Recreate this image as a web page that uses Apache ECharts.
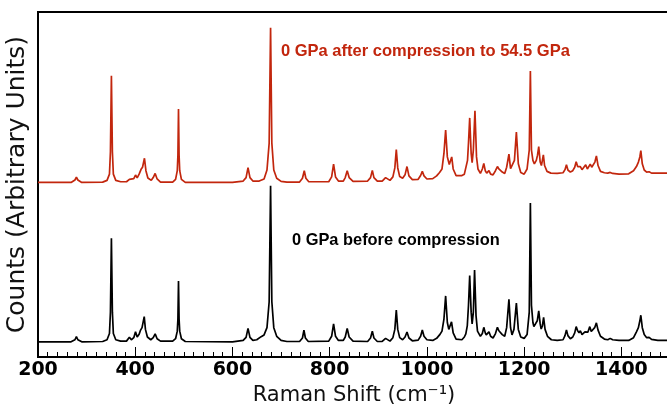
<!DOCTYPE html>
<html>
<head>
<meta charset="utf-8">
<title>Raman spectra</title>
<script src="https://cdn.jsdelivr.net/npm/echarts@6/dist/echarts.min.js"></script>
<style>
  html, body { margin: 0; padding: 0; background: #fff; }
  #chart { width: 667px; height: 404px; }
</style>
</head>
<body>
<div id="chart"></div>
<script>
// Raman spectrum at 0 GPa before compression: [shift (cm^-1), counts]
const spectrumBefore = [
  [200, 4.4], [268, 4.4], [276, 5.0], [279, 5.9], [282, 5.0], [290, 4.4],
  [333, 4.5], [342, 5.0], [347, 6.8], [349, 13], [351, 34.4], [353, 13], [355, 6.8], [360, 5.0], [370, 4.6],
  [382, 4.6], [388, 5.7], [392, 5.0], [397, 5.6], [400.6, 7.3], [404, 5.8], [408, 6.6], [411, 7.8], [414, 8.5],
  [418.5, 11.7], [421, 8.0], [425, 5.8], [432, 5.0], [437, 5.6], [441, 6.7], [445, 5.3], [452, 4.6],
  [477, 4.6], [483, 5.3], [486.5, 7.5], [487.8, 11], [489, 22.0], [490.2, 11], [491.5, 7.5], [495, 5.3], [503, 4.5],
  [600, 4.4], [622, 4.8], [628, 5.7], [632, 8.3], [636, 5.7], [642, 4.8], [650, 5.0], [659, 5.9], [665, 6.4],
  [671, 8.5], [675.5, 16], [678.4, 49.6], [681, 16], [685, 8.5], [691, 6.0], [700, 4.8], [712, 4.5],
  [738, 4.5], [744, 5.5], [747, 7.8], [750, 5.5], [756, 4.5],
  [798, 4.6], [804, 6.0], [808, 9.6], [812, 6.0], [818, 4.8], [828, 4.8], [832, 5.8], [836, 8.3], [840, 5.8], [848, 4.6],
  [878, 4.5], [884, 5.5], [887.7, 7.5], [891, 5.5], [898, 4.5], [908, 4.5], [912, 4.9], [915, 5.4], [918, 4.9],
  [924, 4.6], [930, 5.6], [934, 8], [937, 13.6], [940, 8], [944, 5.6], [950, 5.0], [955, 5.8], [959, 7.25], [963, 5.5],
  [970, 4.7], [982, 4.9], [987, 6], [990.5, 7.8], [994, 6.0], [1000, 5.0], [1012, 4.8], [1020, 5.4], [1026, 6.4],
  [1031, 7.5], [1035, 11], [1038.5, 17.7], [1042, 10.0], [1045, 8.0], [1050.6, 10.2], [1054, 7.0], [1060, 5.2],
  [1072, 5.0], [1077, 5.8], [1080, 6.7], [1083, 9], [1085.5, 15], [1088, 23.6], [1091, 13], [1093, 9.6],
  [1095.5, 13], [1098, 25.2], [1101, 12], [1104, 7.5], [1110, 6.0], [1114, 6.8], [1117, 8.6], [1120, 7.0],
  [1122, 6.4], [1124.5, 6.8], [1127.6, 7.3], [1131, 6.0], [1136, 5.5], [1141, 6.8], [1145, 8.6], [1148, 7.6],
  [1151, 7.8], [1155, 6.5], [1160, 6.0], [1164, 8.5], [1168.7, 16.7], [1172, 8.5], [1175, 6.4], [1179, 8.0],
  [1184, 15.6], [1188, 8.0], [1193, 5.8], [1200, 5.4], [1206, 6.5], [1210.5, 13], [1212.8, 44.6], [1215, 15],
  [1218, 10], [1220, 8.8], [1224, 8.8], [1227, 10.5], [1230, 13.4], [1233, 9.6], [1235, 8.1], [1237.5, 9.0],
  [1240, 11.5], [1243, 8.0], [1248, 6.0], [1256, 5.0], [1268, 4.8], [1280, 5.0], [1284, 6.2], [1287, 7.8],
  [1290, 6.2], [1295, 5.3], [1300, 5.8], [1304, 7.0], [1307, 8.8], [1310, 7.6], [1313, 7.0], [1315.6, 7.6],
  [1319, 6.5], [1322, 6.6], [1325, 7.3], [1328, 6.8], [1331, 7.2], [1335, 8.8], [1338, 7.4], [1341, 7.2],
  [1345, 8.5], [1348.6, 9.9], [1352, 7.8], [1357, 6.0], [1365, 5.2], [1372, 5.0], [1377, 5.4], [1382, 5.0],
  [1395, 4.8], [1415, 4.8], [1425, 5.6], [1431, 7.3], [1435, 8.5], [1438, 10.5], [1440, 12.1], [1443, 8.5],
  [1447, 6.5], [1452, 5.6], [1457, 5.7], [1462, 5.1], [1475, 4.8], [1500, 4.8]
];

// Raman spectrum at 0 GPa after compression to 54.5 GPa: [shift (cm^-1), counts]
const spectrumAfter = [
  [200, 4.6], [268, 4.6], [276, 5.3], [279, 6.1], [282, 5.3], [290, 4.6],
  [333, 4.7], [342, 5.2], [347, 7.0], [349, 13.5], [351, 35.5], [353, 13.5], [355, 7.0], [360, 5.2], [370, 4.8],
  [382, 4.8], [388, 5.5], [392, 5.1], [397, 5.7], [400.6, 6.75], [404, 5.9], [408, 7.0], [412, 8.4], [415, 9.0],
  [419, 11.6], [422, 8.0], [426, 5.9], [433, 5.2], [437, 6.0], [441, 7.2], [445, 5.6], [452, 4.7],
  [477, 4.7], [483, 5.5], [486.5, 8], [487.8, 12.5], [489, 25.9], [490.2, 12.5], [491.5, 8], [495, 5.5], [503, 4.6],
  [600, 4.6], [622, 5.0], [628, 6.0], [632, 8.9], [636, 6.0], [642, 5.0], [655, 5.0], [665, 5.6],
  [671, 8.2], [675.5, 16], [678.4, 49.4], [681, 16], [685, 8.2], [691, 5.8], [700, 4.9], [712, 4.7],
  [738, 4.7], [744, 5.8], [747.7, 8.0], [751, 5.8], [757, 4.8],
  [798, 4.8], [804, 6.2], [808, 9.9], [812, 6.2], [818, 5.0], [828, 5.0], [832, 6.0], [836, 8.0], [840, 6.0], [848, 4.9],
  [878, 5.0], [884, 6.0], [887.7, 8.1], [891, 6.0], [898, 5.0], [908, 5.0], [912, 5.5], [915, 6.0], [918, 5.5],
  [924, 5.2], [930, 6.2], [934, 8.8], [937, 14.1], [940, 8.8], [944, 6.3], [950, 5.8], [955, 6.8], [959, 9.2], [963, 6.5],
  [970, 5.4], [982, 5.5], [987, 6.6], [990.5, 7.8], [994, 6.5], [1000, 5.6], [1012, 5.7], [1020, 6.5], [1026, 7.5],
  [1031, 8.5], [1035, 13], [1038.5, 19.8], [1042, 12], [1046, 9.8], [1051, 12.0], [1054, 8.5], [1060, 6.6],
  [1072, 6.6], [1077, 7.0], [1081, 7.5], [1083.5, 11], [1085.5, 16], [1088, 23.3], [1091, 13], [1093, 10.3],
  [1095.5, 14], [1098.8, 25.4], [1102, 12], [1105, 8.5], [1110, 7.2], [1114, 8.5], [1117, 10.1], [1120, 8.0],
  [1123, 7.3], [1125, 7.6], [1127.6, 8.0], [1131, 7.0], [1136, 6.8], [1141, 8.0], [1145, 9.2], [1148, 8.5],
  [1151.6, 8.7], [1155, 7.6], [1160, 7.2], [1164, 9.0], [1168.7, 12.8], [1172, 8.6], [1176, 8.2], [1180, 11],
  [1184, 19.2], [1188, 10], [1193, 7.5], [1200, 7.0], [1206, 8.5], [1210.5, 14], [1212.8, 36.9], [1215, 14],
  [1218, 11], [1221, 10], [1225, 11], [1227.5, 12.5], [1230, 15.0], [1233, 10.5], [1235.5, 9.5], [1237.5, 11],
  [1239.5, 12.6], [1242, 9.5], [1247, 7.8], [1255, 7.3], [1268, 7.2], [1280, 7.4], [1284, 8.3], [1287, 9.7],
  [1290, 8.2], [1295, 7.6], [1300, 8.0], [1304, 9.0], [1307, 10.6], [1310, 9.2], [1313, 8.7], [1315.6, 9.2],
  [1319, 8.3], [1322, 8.6], [1326.6, 9.7], [1330, 8.5], [1333, 8.7], [1336, 9.9], [1339, 9.0], [1343, 9.3],
  [1345.5, 10.5], [1348.6, 12.3], [1352, 9.5], [1357, 7.8], [1365, 7.4], [1372, 7.3], [1377, 7.5], [1382, 7.2],
  [1395, 7.0], [1415, 7.1], [1425, 8.0], [1431, 9.2], [1435, 10.5], [1438, 12], [1440, 13.8], [1443, 10],
  [1447, 8.2], [1452, 7.6], [1457, 7.7], [1462, 7.3], [1475, 7.3], [1500, 7.3]
];

// vertical offset applied to the upper trace so the two spectra are stacked
const afterOffset = 46;

const seriesNames = ['0 GPa before compression', '0 GPa after compression to 54.5 GPa'];
const xAxisTitle = 'Raman Shift (cm\u207B\u00B9)';
const yAxisTitle = 'Counts (Arbitrary Units)';

const RED = '#c2260d';

const chart = echarts.init(document.getElementById('chart'), null, { renderer: 'canvas' });

chart.setOption({
  animation: false,
  backgroundColor: '#fff',
  grid: {
    left: 38, right: -3, top: 12, bottom: 47,
    outerBoundsMode: 'none',
    containLabel: false,
    show: true, borderColor: '#000', borderWidth: 2, backgroundColor: 'transparent'
  },
  xAxis: {
    type: 'value',
    min: 200, max: 1500, interval: 200,
    axisLine: { show: true, onZero: false, lineStyle: { color: '#000', width: 2 } },
    axisTick: { show: true, inside: true, length: 10, lineStyle: { color: '#000', width: 1 } },
    minorTick: { show: true, splitNumber: 10, length: 5, lineStyle: { color: '#000', width: 1 } },
    splitLine: { show: false },
    axisLabel: {
      showMaxLabel: false,
      formatter: v => String(v),
      color: '#000', fontFamily: 'DejaVu Sans', fontWeight: 'bold', fontSize: 19, margin: 4
    },
    name: xAxisTitle,
    nameLocation: 'middle',
    nameGap: 23,
    nameTextStyle: { color: '#111', fontFamily: 'DejaVu Sans', fontSize: 21 }
  },
  yAxis: {
    type: 'value',
    min: 0, max: 100,
    axisLine: { show: true, lineStyle: { color: '#000', width: 2 } },
    axisTick: { show: false },
    axisLabel: { show: false },
    splitLine: { show: false },
    name: yAxisTitle,
    nameLocation: 'middle',
    nameGap: 8,
    nameTextStyle: { color: '#111', fontFamily: 'DejaVu Sans', fontSize: 25 }
  },
  series: [
    {
      name: seriesNames[0],
      type: 'line',
      data: spectrumBefore,
      showSymbol: false,
      lineStyle: { color: '#000', width: 1.7 },
      z: 3
    },
    {
      name: seriesNames[1],
      type: 'line',
      data: spectrumAfter.map(p => [p[0], p[1] + afterOffset]),
      showSymbol: false,
      lineStyle: { color: RED, width: 1.7 },
      z: 2
    }
  ],
  graphic: [
    {
      type: 'text', x: 281, y: 51.5, z: 10,
      style: {
        text: seriesNames[1], fill: RED,
        font: 'bold 16.5px "Liberation Sans", Arial, sans-serif',
        align: 'left', verticalAlign: 'middle'
      }
    },
    {
      type: 'text', x: 292, y: 240.5, z: 10,
      style: {
        text: seriesNames[0], fill: '#000',
        font: 'bold 16.4px "Liberation Sans", Arial, sans-serif',
        align: 'left', verticalAlign: 'middle'
      }
    }
  ]
});
</script>
</body>
</html>
